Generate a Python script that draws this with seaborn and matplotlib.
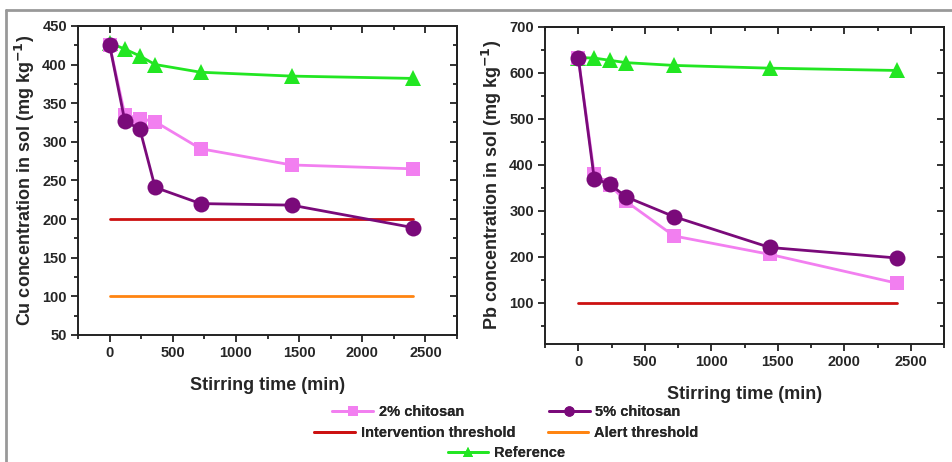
import pandas as pd
import seaborn as sns
import matplotlib.pyplot as plt
from matplotlib.ticker import MultipleLocator
from matplotlib.lines import Line2D

# Datos
tiempo = [0, 120, 240, 360, 720, 1440, 2400]

cu_2 = [425, 335, 330, 326, 291, 270, 265]
cu_5 = [425, 327, 316, 241, 220, 218, 189]
cu_ref = [428, 420, 411, 400, 390, 385, 382]

pb_2 = [633, 380, 355, 320, 245, 205, 142]
pb_5 = [633, 370, 357, 330, 287, 220, 197]
pb_ref = [633, 632, 627, 622, 616, 610, 605]

umbral_x = [0, 2400]
cu_intervencion = [200, 200]
cu_alerta = [100, 100]
pb_intervencion = [100, 100]

colores = {'2% chitosan': '#f27ff0', '5% chitosan': '#7a0a7a',
           'Intervention threshold': '#cc1111', 'Alert threshold': '#ff8411',
           'Reference': '#22e622'}
marcadores = {'2% chitosan': ('s', 10), '5% chitosan': ('o', 11.5),
              'Reference': ('^', 11.5)}

sns.set_theme(style="ticks")
plt.rcParams['font.family'] = ['Liberation Sans', 'DejaVu Sans']
plt.rcParams['font.weight'] = 'bold'
plt.rcParams['axes.labelweight'] = 'bold'

fig = plt.figure(figsize=(9.52, 4.62), dpi=100)
ax1 = fig.add_axes([0.082, 0.275, 0.398, 0.669])
ax2 = fig.add_axes([0.5725, 0.2554, 0.4191, 0.6866])


def fijar_ticks(eje, ymayor, ymenor):
    eje.xaxis.set_major_locator(MultipleLocator(500))
    eje.xaxis.set_minor_locator(MultipleLocator(250))
    eje.yaxis.set_major_locator(MultipleLocator(ymayor))
    eje.yaxis.set_minor_locator(MultipleLocator(ymenor))


def dibujar_panel(ax, series, umbrales, ylabel, ylim, ymayor, ymenor):
    for nombre, y in umbrales:
        sns.lineplot(x=umbral_x, y=y, ax=ax, color=colores[nombre],
                     linewidth=2, label=nombre)
    for nombre, y in series:
        m, ms = marcadores[nombre]
        sns.lineplot(x=tiempo, y=y, ax=ax, color=colores[nombre],
                     linewidth=2, marker=m, markersize=ms,
                     markeredgewidth=0, label=nombre)
    ax.set_xlim(-250, 2750)
    ax.set_ylim(*ylim)
    fijar_ticks(ax, ymayor, ymenor)
    # ticks hacia fuera abajo/izquierda
    ax.tick_params(which='both', direction='out', width=1.3, color='#222222')
    ax.tick_params(which='major', length=5, labelsize=10.5, pad=3)
    ax.tick_params(which='minor', length=3)
    # ticks hacia dentro arriba/derecha
    arriba = ax.secondary_xaxis('top')
    derecha = ax.secondary_yaxis('right')
    for sec, eje in ((arriba, arriba.xaxis), (derecha, derecha.yaxis)):
        eje.set_major_locator(MultipleLocator(500 if sec is arriba else ymayor))
        eje.set_minor_locator(MultipleLocator(250 if sec is arriba else ymenor))
        sec.tick_params(which='both', direction='in', width=1.3,
                        color='#222222', labelsize=0)
        sec.tick_params(which='major', length=5)
        sec.tick_params(which='minor', length=3)
        eje.set_ticklabels([])
        for s in sec.spines.values():
            s.set_linewidth(1.4)
            s.set_color('#222222')
    for s in ax.spines.values():
        s.set_linewidth(1.4)
        s.set_color('#222222')
    for t in ax.get_xticklabels() + ax.get_yticklabels():
        t.set_fontweight('bold')
    ax.set_xlabel('Stirring time (min)', fontsize=13, fontweight='bold',
                  labelpad=12)
    ax.set_ylabel(ylabel, fontsize=13, fontweight='bold', labelpad=4)
    ax.get_legend().remove()


dibujar_panel(ax1,
              [('Reference', cu_ref), ('2% chitosan', cu_2), ('5% chitosan', cu_5)],
              [('Intervention threshold', cu_intervencion),
               ('Alert threshold', cu_alerta)],
              'Cu concentration in sol (mg kg$^{\\mathbf{-1}}$)', (50, 450), 50, 25)
dibujar_panel(ax2,
              [('Reference', pb_ref), ('2% chitosan', pb_2), ('5% chitosan', pb_5)],
              [('Intervention threshold', pb_intervencion)],
              'Pb concentration in sol (mg kg$^{\\mathbf{-1}}$)', (10, 700), 100, 50)

# Leyenda comun en tres filas
filas = [(['2% chitosan', '5% chitosan'], 0.108, 5.8),
         (['Intervention threshold', 'Alert threshold'], 0.062, 2.2),
         (['Reference'], 0.019, 1.0)]
for nombres, y, esp in filas:
    hs = []
    for n in nombres:
        if n in marcadores:
            m, ms = marcadores[n]
            hs.append(Line2D([], [], color=colores[n], linewidth=2, marker=m,
                             markersize=ms * 0.65, markeredgewidth=0))
        else:
            hs.append(Line2D([], [], color=colores[n], linewidth=2))
    leg = fig.legend(hs, nombres, ncol=len(nombres), loc='center',
                     bbox_to_anchor=(0.532, y), frameon=False,
                     handlelength=2.8, handletextpad=0.4, columnspacing=esp,
                     prop={'size': 10.5, 'weight': 'bold'}, borderpad=0)
    fig.add_artist(leg)

# Marco gris parcial (arriba e izquierda)
fig.add_artist(Line2D([0.0063, 1.0], [0.978, 0.978], color='#999999',
                      linewidth=2, transform=fig.transFigure))
fig.add_artist(Line2D([0.0063, 0.0063], [0.0, 0.978], color='#999999',
                      linewidth=2, transform=fig.transFigure))

fig.savefig('out.png', dpi=100)
